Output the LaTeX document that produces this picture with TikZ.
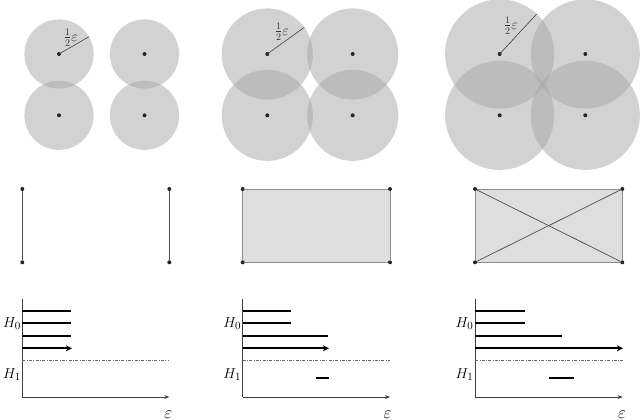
\documentclass[tikz,border=0pt]{standalone}
\usetikzlibrary{arrows.meta,calc}
\begin{document}
\begin{tikzpicture}[x=1pt,y=-1pt,
  dot/.style={circle,fill=black!85,inner sep=0pt,minimum size=4pt},
  ball/.style={fill=black!35,fill opacity=0.5},
  radline/.style={black!75,line width=0.6pt},
  edge/.style={black!45,line width=0.9pt},
  diag/.style={black!70,line width=0.7pt},
  cplx/.style={fill=black!13},
  axisline/.style={black!75,line width=0.8pt},
  axtip/.style={-{Stealth[length=5pt,width=4pt]}},
  bar/.style={line width=1.8pt},
  bartip/.style={-{Stealth[length=6pt,width=6pt,inset=1.5pt]}},
  sep/.style={black!60,line width=0.5pt,dash pattern=on 3pt off 1.5pt on 0.6pt off 1.5pt},
  hlab/.style={anchor=base east,inner sep=0pt,font=\fontsize{15.5}{18}\selectfont},
  elab/.style={anchor=base,inner sep=0pt,font=\fontsize{16}{18}\selectfont},
  rlab/.style={inner sep=0pt,text=black!80,font=\fontsize{14}{16}\selectfont}
]
\useasboundingbox (0,0) rectangle (640,420);
\begin{scope}
\clip (0,0) rectangle (640,420);
% ---------- top row: balls ----------
\foreach \cx/\cy/\r in {59/54/34.6,144.5/54/34.6,59/115.3/34.6,144.5/115.3/34.6,
  267.3/54/45.6,352.7/54/45.6,267.3/115.3/45.6,352.7/115.3/45.6,
  499.7/54/54.6,585.3/54/54.6,499.7/115.3/54.6,585.3/115.3/54.6}
  \fill[ball] (\cx,\cy) circle[radius=\r pt];
\end{scope}
% panel 1 points
\node[dot] (a1) at (59,54) {};
\node[dot] (a2) at (144.5,54) {};
\node[dot] (a3) at (59,115.3) {};
\node[dot] (a4) at (144.5,115.3) {};
\coordinate (ae) at (89,36.7);
\draw[radline] (a1.center) -- (ae);
\node[rlab] (al) at (71,37.5) {$\frac12\varepsilon$};
% panel 2 points
\node[dot] (b1) at (267.3,54) {};
\node[dot] (b2) at (352.7,54) {};
\node[dot] (b3) at (267.3,115.3) {};
\node[dot] (b4) at (352.7,115.3) {};
\coordinate (be) at (304.3,27.3);
\draw[radline] (b1.center) -- (be);
\node[rlab] (bl) at (282,31.5) {$\frac12\varepsilon$};
% panel 3 points
\node[dot] (c1) at (499.7,54) {};
\node[dot] (c2) at (585.3,54) {};
\node[dot] (c3) at (499.7,115.3) {};
\node[dot] (c4) at (585.3,115.3) {};
\coordinate (ce) at (536.7,14);
\draw[radline] (c1.center) -- (ce);
\node[rlab] (cl) at (511,25.5) {$\frac12\varepsilon$};

% ---------- middle row: complexes ----------
% panel 1
\node[dot] (d1) at (22.3,189) {};
\node[dot] (d2) at (169.3,189) {};
\node[dot] (d3) at (22.3,262.3) {};
\node[dot] (d4) at (169.3,262.3) {};
\draw[diag] (d1) -- (d3);
\draw[diag] (d2) -- (d4);
% panel 2
\coordinate (e1c) at (242.7,189);
\coordinate (e4c) at (390,262.3);
\fill[cplx] (e1c) rectangle (e4c);
\node[dot] (e1) at (242.7,189) {};
\node[dot] (e2) at (390,189) {};
\node[dot] (e3) at (242.7,262.3) {};
\node[dot] (e4) at (390,262.3) {};
\draw[edge] (e1) -- (e2);
\draw[edge] (e1) -- (e3);
\draw[edge] (e2) -- (e4);
\draw[edge] (e3) -- (e4);
% panel 3
\coordinate (f1c) at (475,189);
\coordinate (f4c) at (622.3,262.3);
\fill[cplx] (f1c) rectangle (f4c);
\node[dot] (f1) at (475,189) {};
\node[dot] (f2) at (622.3,189) {};
\node[dot] (f3) at (475,262.3) {};
\node[dot] (f4) at (622.3,262.3) {};
\draw[edge] (f1) -- (f2);
\draw[edge] (f1) -- (f3);
\draw[edge] (f2) -- (f4);
\draw[edge] (f3) -- (f4);
\draw[diag] (f1) -- (f4);
\draw[diag] (f2) -- (f3);

% ---------- bottom row: barcodes ----------
% panel 1
\coordinate (g0) at (22.3,397);
\coordinate (gt) at (22.3,299);
\coordinate (gx) at (169.3,397);
\draw[axisline] (gt) -- (g0);
\draw[axisline,axtip] (g0) -- (gx);
\draw[sep] (22.3,360) -- (169.3,360);
\draw[bar] (22.3,311) -- (71.3,311);
\draw[bar] (22.3,323.3) -- (71.3,323.3);
\draw[bar] (22.3,335.7) -- (71.3,335.7);
\draw[bar,bartip] (22.3,348.3) -- (72,348.3);
\node[hlab] (gh0) at (21,327.3) {$H_0$};
\node[hlab] (gh1) at (21,378.3) {$H_1$};
\node[elab] (ge) at (168.3,418) {$\varepsilon$};
% panel 2
\coordinate (h0) at (242.7,397);
\coordinate (ht) at (242.7,299);
\coordinate (hx) at (390,397);
\draw[axisline] (ht) -- (h0);
\draw[axisline,axtip] (h0) -- (hx);
\draw[sep] (242.7,360) -- (390,360);
\draw[bar] (242.7,311) -- (291.3,311);
\draw[bar] (242.7,323.3) -- (291.3,323.3);
\draw[bar] (242.7,335.7) -- (328.3,335.7);
\draw[bar,bartip] (242.7,348.3) -- (329,348.3);
\draw[bar] (316,378.3) -- (328.7,378.3);
\node[hlab] (hh0) at (241.3,327.3) {$H_0$};
\node[hlab] (hh1) at (241.3,378.3) {$H_1$};
\node[elab] (he) at (387.5,418) {$\varepsilon$};
% panel 3
\coordinate (i0) at (475,397);
\coordinate (it) at (475,299);
\coordinate (ix) at (622.7,397);
\draw[axisline] (it) -- (i0);
\draw[axisline,axtip] (i0) -- (ix);
\draw[sep] (475,360) -- (622.7,360);
\draw[bar] (475,311) -- (524.7,311);
\draw[bar] (475,323.3) -- (524.7,323.3);
\draw[bar] (475,335.7) -- (561.7,335.7);
\draw[bar,bartip] (475,348.3) -- (623,348.3);
\draw[bar] (549,378.3) -- (573.7,378.3);
\node[hlab] (ih0) at (473.6,327.3) {$H_0$};
\node[hlab] (ih1) at (473.6,378.3) {$H_1$};
\node[elab] (ie) at (622,418) {$\varepsilon$};
\end{tikzpicture}
\end{document}
